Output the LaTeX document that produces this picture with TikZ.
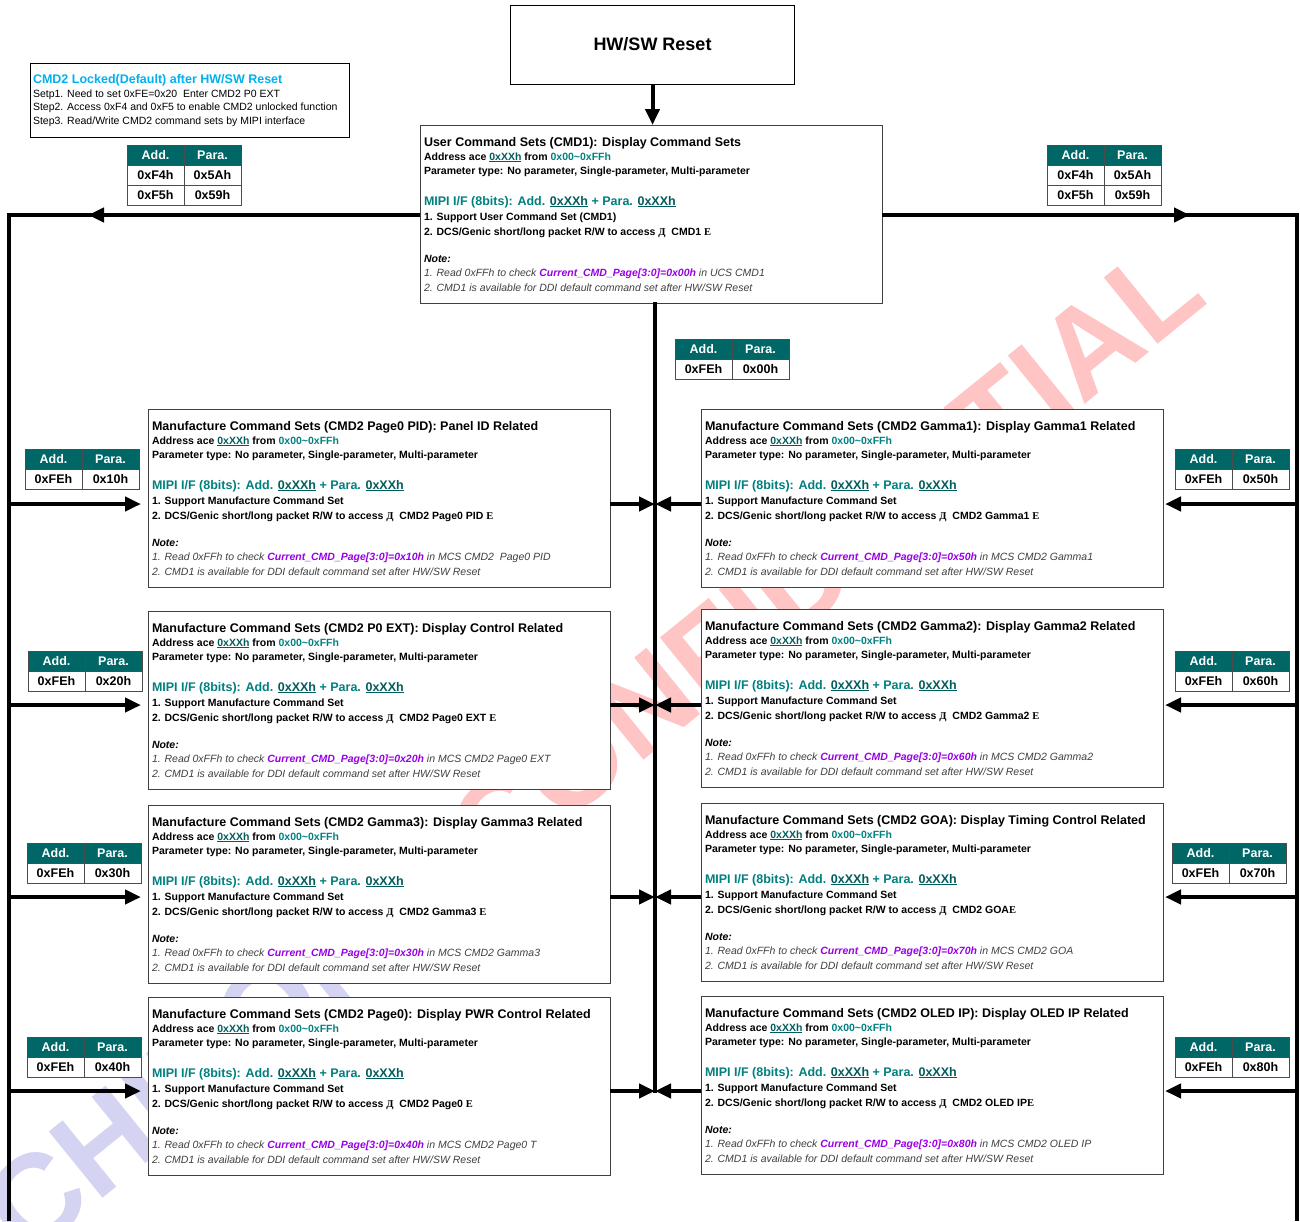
\documentclass[tikz,border=0pt]{standalone}
\usepackage{fontspec}
\setmainfont{Liberation Sans}
\newfontfamily\cyrfont{Liberation Serif}
\usepackage{xcolor}
\usetikzlibrary{arrows.meta, positioning, calc}

\definecolor{TealHead}{RGB}{0,102,102}
\definecolor{TealText}{RGB}{0,128,128}
\definecolor{TealDark}{RGB}{0,92,92}
\definecolor{SkyTitle}{RGB}{0,176,240}
\definecolor{PagePurple}{RGB}{153,0,230}
\definecolor{NoteGray}{RGB}{64,64,64}
\definecolor{MarkRed}{RGB}{255,196,196}
\definecolor{MarkBlue}{RGB}{212,212,242}

\newcommand{\xxh}{\textcolor{TealDark}{\underline{0xXXh}}}
\newcommand{\cyr}[1]{{\cyrfont #1}}

% name, x, y, title, support line, target, page code, where
\newcommand{\cmdbox}[8]{%
  \node[setbox, anchor=north west] (#1) at (#2,#3) {};
  \node[txtline, ttlfont] (#1-l1) at ({#2+4},{#3+21}) {#4};
  \node[txtline, bodyfont] (#1-l2) at ({#2+4},{#3+35}) {Address ace \xxh{} from \textcolor{TealText}{0x00\textasciitilde0xFFh}};
  \node[txtline, bodyfont] (#1-l3) at ({#2+4},{#3+49.5}) {Parameter type: No parameter, Single-parameter, Multi-parameter};
  \node[txtline, mipifont] (#1-l4) at ({#2+4},{#3+80}) {MIPI I/F (8bits): Add. \xxh{} + Para. \xxh};
  \node[txtline, bodyfont] (#1-l5) at ({#2+4},{#3+95}) {#5};
  \node[txtline, bodyfont] (#1-l6) at ({#2+4},{#3+110}) {2. DCS/Genic short/long packet R/W to access \cyr{Д}\ \ #6\cyr{Е}};
  \node[txtline, bodyfont, font=\fontsize{10.5}{12.5}\selectfont\bfseries\itshape] (#1-l7) at ({#2+4},{#3+137}) {Note:};
  \node[txtline, notefont] (#1-l8) at ({#2+4},{#3+151.5}) {1. Read 0xFFh to check \textcolor{PagePurple}{\bfseries Current\_CMD\_Page[3:0]=#7} in #8};
  \node[txtline, notefont] (#1-l9) at ({#2+4},{#3+166}) {2. CMD1 is available for DDI default command set after HW/SW Reset};
}

% name, x, y (top left), address, parameter
\newcommand{\regtable}[5]{%
  \node[hcell, anchor=north west] (#1-ha) at (#2,#3) {Add.};
  \node[hcell, anchor=west] (#1-hp) at (#1-ha.east) {Para.};
  \node[vcell, anchor=north] (#1-a) at (#1-ha.south) {#4};
  \node[vcell, anchor=north] (#1-p) at (#1-hp.south) {#5};
}

\begin{document}
\begin{tikzpicture}[x=1pt, y=-1pt,
    setbox/.style={draw=black!75, line width=1pt, fill=white, minimum width=462pt, minimum height=178pt, inner sep=0pt, outer sep=0pt},
    txtline/.style={anchor=base west, inner sep=0pt, outer sep=0pt},
    ttlfont/.style={font=\fontsize{12.5}{15}\selectfont\bfseries},
    bodyfont/.style={font=\fontsize{10.5}{12.5}\selectfont\bfseries},
    mipifont/.style={font=\fontsize{12.5}{15}\selectfont\bfseries, text=TealText},
    notefont/.style={font=\fontsize{10.5}{12.5}\selectfont\itshape, text=NoteGray},
    lockfont/.style={font=\fontsize{10.5}{12.5}\selectfont},
    hcell/.style={draw=black!70, line width=0.8pt, fill=TealHead, text=white, minimum width=57pt, minimum height=20pt, inner sep=0pt, outer sep=0pt, font=\fontsize{12.5}{15}\selectfont\bfseries},
    vcell/.style={hcell, fill=white, text=black},
    bus/.style={line width=4pt},
    busarrow/.style={bus, -{Triangle[length=16pt, width=14pt]}}
  ]
  \useasboundingbox (0,0) rectangle (1300,1221);

  % Watermark
  \node[rotate=39, inner sep=0pt, font=\fontsize{124}{124}\selectfont\bfseries] (wmark) at (592,748)
    {\textcolor{MarkBlue}{CHIPONE} \textcolor{MarkRed}{CONFIDENTIAL}};

  % Reset and lock note
  \node[draw, line width=1pt, minimum width=284pt, minimum height=79pt, anchor=north west,
    font=\fontsize{18}{20}\selectfont\bfseries] (reset) at (510,5) {\raisebox{2pt}{HW/SW Reset}};
  \node[draw, line width=1pt, minimum width=319pt, minimum height=74pt, anchor=north west] (lockbox) at (30,63) {};
  \node[txtline, font=\fontsize{12.5}{15}\selectfont\bfseries, text=SkyTitle] (lock-l1) at (33,83.5) {CMD2 Locked(Default) after HW/SW Reset};
  \node[txtline, lockfont] (lock-l2) at (33,97) {Setp1. Need to set 0xFE=0x20\ \ Enter CMD2 P0 EXT};
  \node[txtline, lockfont] (lock-l3) at (33,110.5) {Step2. Access 0xF4 and 0xF5 to enable CMD2 unlocked function};
  \node[txtline, lockfont] (lock-l4) at (33,124) {Step3. Read/Write CMD2 command sets by MIPI interface};

  % Command set boxes
  \cmdbox{cmd1}{420}{125}{User Command Sets (CMD1): Display Command Sets}{1. Support User Command Set (CMD1)}{CMD1 }{0x00h}{UCS CMD1}
  \cmdbox{pid}{148}{409}{Manufacture Command Sets (CMD2 Page0 PID): Panel ID Related}{1. Support Manufacture Command Set}{CMD2 Page0 PID }{0x10h}{MCS CMD2\ \ Page0 PID}
  \cmdbox{ext}{148}{611}{Manufacture Command Sets (CMD2 P0 EXT): Display Control Related}{1. Support Manufacture Command Set}{CMD2 Page0 EXT }{0x20h}{MCS CMD2 Page0 EXT}
  \cmdbox{gam3}{148}{805}{Manufacture Command Sets (CMD2 Gamma3): Display Gamma3 Related}{1. Support Manufacture Command Set}{CMD2 Gamma3 }{0x30h}{MCS CMD2 Gamma3}
  \cmdbox{pwr}{148}{997}{Manufacture Command Sets (CMD2 Page0): Display PWR Control Related}{1. Support Manufacture Command Set}{CMD2 Page0 }{0x40h}{MCS CMD2 Page0 T}
  \cmdbox{gam1}{701}{409}{Manufacture Command Sets (CMD2 Gamma1): Display Gamma1 Related}{1. Support Manufacture Command Set}{CMD2 Gamma1 }{0x50h}{MCS CMD2 Gamma1}
  \cmdbox{gam2}{701}{609}{Manufacture Command Sets (CMD2 Gamma2): Display Gamma2 Related}{1. Support Manufacture Command Set}{CMD2 Gamma2 }{0x60h}{MCS CMD2 Gamma2}
  \cmdbox{goa}{701}{803}{Manufacture Command Sets (CMD2 GOA): Display Timing Control Related}{1. Support Manufacture Command Set}{CMD2 GOA}{0x70h}{MCS CMD2 GOA}
  \cmdbox{oled}{701}{996}{Manufacture Command Sets (CMD2 OLED IP): Display OLED IP Related}{1. Support Manufacture Command Set}{CMD2 OLED IP}{0x80h}{MCS CMD2 OLED IP}

  % Register tables
  \regtable{unlk-l}{127}{145}{0xF4h}{0x5Ah}
  \node[vcell, anchor=north] (unlk-l-a2) at (unlk-l-a.south) {0xF5h};
  \node[vcell, anchor=north] (unlk-l-p2) at (unlk-l-p.south) {0x59h};
  \regtable{unlk-r}{1047}{145}{0xF4h}{0x5Ah}
  \node[vcell, anchor=north] (unlk-r-a2) at (unlk-r-a.south) {0xF5h};
  \node[vcell, anchor=north] (unlk-r-p2) at (unlk-r-p.south) {0x59h};
  \regtable{pg00}{675}{339}{0xFEh}{0x00h}
  \regtable{pg10}{25}{449}{0xFEh}{0x10h}
  \regtable{pg20}{28}{651}{0xFEh}{0x20h}
  \regtable{pg30}{27}{843}{0xFEh}{0x30h}
  \regtable{pg40}{27}{1037}{0xFEh}{0x40h}
  \regtable{pg50}{1175}{449}{0xFEh}{0x50h}
  \regtable{pg60}{1175}{651}{0xFEh}{0x60h}
  \regtable{pg70}{1172}{843}{0xFEh}{0x70h}
  \regtable{pg80}{1175}{1037}{0xFEh}{0x80h}

  % Buses
  \coordinate (ltop) at (9,215);
  \coordinate (rtop) at (1297,215);
  \coordinate (midtop) at (655,302);
  \coordinate (midbot) at (655,1093);
  \draw[busarrow] (reset.south) -- (reset.south |- cmd1.north);
  \draw[bus] (cmd1.west |- ltop) -- (ltop) -- (9,1221);
  \draw[busarrow] (cmd1.west |- ltop) -- ([xshift=79pt]ltop);
  \draw[bus] (cmd1.east |- rtop) -- (rtop) -- (1297,1221);
  \draw[busarrow] (cmd1.east |- rtop) -- ([xshift=-107pt]rtop);
  \draw[bus] (midtop) -- (midbot);

  % Branches
  \foreach \lb/\rb/\yy in {pid/gam1/504, ext/gam2/705, gam3/goa/897, pwr/oled/1091} {
    \coordinate (lrow) at (9,\yy);
    \coordinate (rrow) at (1297,\yy);
    \draw[busarrow, shorten >=7pt] (lrow) -- (lrow -| \lb.west);
    \draw[busarrow] (lrow -| \lb.east) -- (lrow -| midtop);
    \draw[busarrow] (rrow -| \rb.west) -- (rrow -| midtop);
    \draw[busarrow] (rrow) -- ([xshift=2pt]rrow -| \rb.east);
  }
\end{tikzpicture}
\end{document}
